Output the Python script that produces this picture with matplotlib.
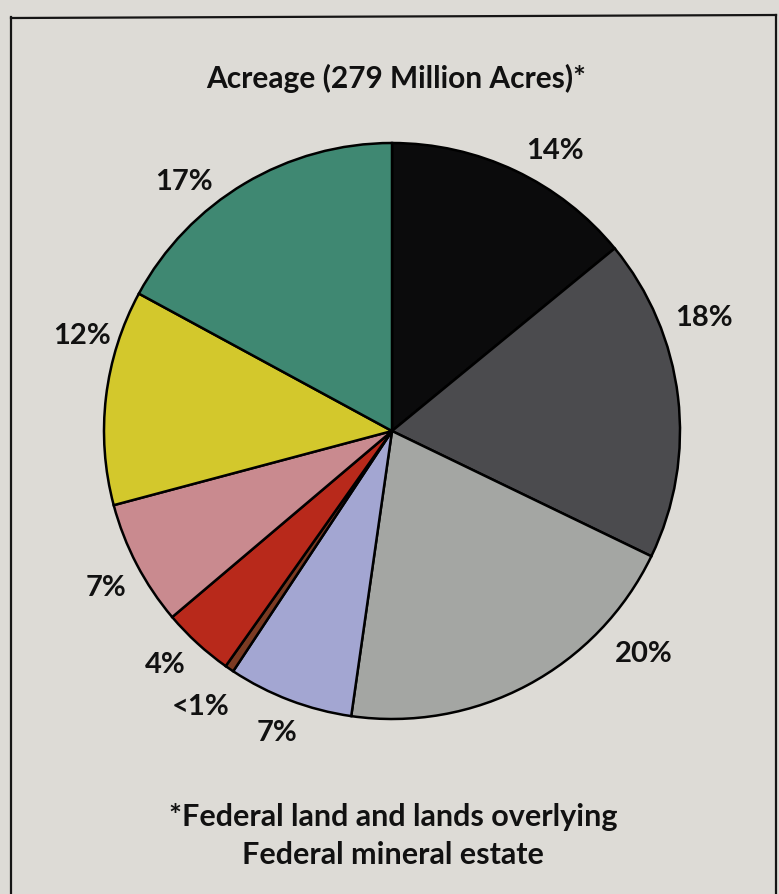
import matplotlib.pyplot as plt
from matplotlib.lines import Line2D

# slice values in percent, clockwise from 12 o'clock
shares = [14, 18, 20, 7, 0.5, 4, 7, 12, 17]
labels = ["14%", "18%", "20%", "7%", "<1%", "4%", "7%", "12%", "17%"]
colors = ["#0b0b0c", "#4b4b4e", "#a4a6a3", "#a3a6d2", "#7b3a22",
          "#b8291b", "#c98a8f", "#d3c82c", "#3f8872"]

title = "Acreage (279 Million Acres)*"
note = "*Federal land and lands overlying\nFederal mineral estate"

# label spots, in units of pie radius (centre = 0, 0)
label_xy = [(0.566, 0.976), (1.083, 0.396), (0.875, -0.771), (-0.399, -1.045),
            (-0.663, -0.955), (-0.788, -0.809), (-0.993, -0.542),
            (-1.076, 0.333), (-0.722, 0.868)]

bg = "#dddbd6"
font = ["Lato", "DejaVu Sans"]

W, H = 779, 895
fig = plt.figure(figsize=(W / 100, H / 100), dpi=100, facecolor=bg)

# pie centre at (392, 432) px, radius 288 px
cx, cy, R, span = 392, 432, 288, 1.3
ax = fig.add_axes([(cx - span * R) / W, (H - cy - span * R) / H,
                   2 * span * R / W, 2 * span * R / H])
ax.pie(shares, colors=colors, startangle=90, counterclock=False, radius=1,
       wedgeprops=dict(edgecolor="black", linewidth=1.8))
for (x, y), lab in zip(label_xy, labels):
    ax.text(x, y, lab, ha="center", va="center", fontsize=21,
            fontweight="bold", family=font, color="#111111")
ax.set_xlim(-span, span)
ax.set_ylim(-span, span)
ax.set_aspect("equal")
ax.axis("off")

fig.text(396 / W, 1 - 78 / H, title, ha="center", va="center",
         fontsize=21.5, fontweight="bold", family=font, color="#111111")
fig.text(393 / W, 1 - 836 / H, note, ha="center", va="center",
         fontsize=22, fontweight="bold", family=font, color="#111111",
         linespacing=1.42)

# frame around the panel (bottom edge falls off the picture)
box = dict(color="#151515", linewidth=1.6, transform=fig.transFigure)
fig.add_artist(Line2D([11 / W, 11 / W], [1 - 18 / H, 0], **box))
fig.add_artist(Line2D([11 / W, 776 / W], [1 - 19 / H, 1 - 16 / H], **box))
fig.add_artist(Line2D([776 / W, 776 / W], [1 - 16 / H, 0], **box))

fig.savefig("out.png", dpi=100, facecolor=bg)
